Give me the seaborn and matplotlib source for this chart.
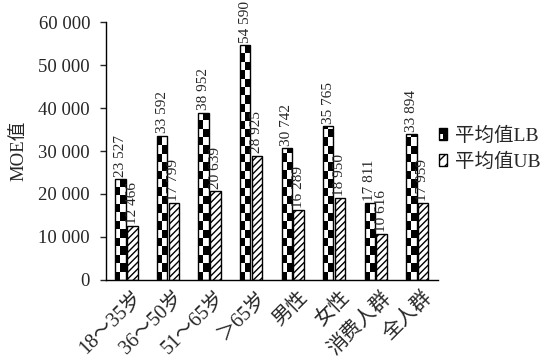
import numpy as np
import pandas as pd
import matplotlib
matplotlib.use("Agg")
import matplotlib.pyplot as plt
import matplotlib.transforms as mtransforms
import seaborn as sns
from matplotlib.patches import Rectangle
from matplotlib.legend_handler import HandlerBase
from matplotlib.ticker import FuncFormatter

categories = ["18～35岁", "36～50岁", "51～65岁", "＞65岁", "男性", "女性", "消费人群", "全人群"]
lb_values = [23527, 33592, 38952, 54590, 30742, 35765, 17811, 33894]
ub_values = [12466, 17799, 20639, 28925, 16289, 18950, 10616, 17959]
series_names = ["平均值LB", "平均值UB"]
yticks = [0, 10000, 20000, 30000, 40000, 50000, 60000]

sns.set_style("white")
FONT = ["Liberation Serif", "Noto Sans CJK SC"]
plt.rcParams["font.family"] = FONT
plt.rcParams["hatch.linewidth"] = 1.0

df = pd.DataFrame({
    "cat": categories * 2,
    "series": [series_names[0]] * len(categories) + [series_names[1]] * len(categories),
    "value": lb_values + ub_values,
})

fig = plt.figure(figsize=(5.48, 3.63), dpi=100)
ax = fig.add_axes([0.193, 0.229, 0.606, 0.710])

sns.barplot(data=df, x="cat", y="value", hue="series", order=categories,
            hue_order=series_names, palette=["white", "white"], width=0.56,
            gap=0.1, edgecolor="black", linewidth=1.0, legend=False, ax=ax)

ax.set_ylim(0, 60000)
xlim = ax.get_xlim()

def fmt(v):
    return f"{int(round(v)):,}".replace(",", " ")

# checkerboard for LB bars
row_h = 1950
for bar in ax.containers[0]:
    x0 = bar.get_x(); w = bar.get_width(); h = bar.get_height()
    n = int(np.ceil(h / row_h)) + 1
    arr = np.indices((n, 2)).sum(0) % 2
    im = ax.imshow(arr, cmap="gray", extent=(x0, x0 + w, 0, n * row_h),
                   origin="lower", aspect="auto", interpolation="nearest",
                   zorder=bar.get_zorder() + 0.1)
    im.set_clip_path(bar)
    bar.set_facecolor("none")
    bar.set_zorder(bar.get_zorder() + 0.2)

for bar in ax.containers[1]:
    bar.set_hatch("/////")

for cont in ax.containers:
    for bar in cont:
        h = bar.get_height()
        ax.text(bar.get_x() + bar.get_width() / 2, h + 500, fmt(h),
                rotation=90, ha="center", va="bottom", fontsize=11, family=FONT)

ax.set_xlim(xlim)
ax.set_ylim(0, 60000)
ax.set_yticks(yticks)
ax.yaxis.set_major_formatter(FuncFormatter(lambda v, p: fmt(v)))
ax.tick_params(axis="y", labelsize=13.5, length=4.3, width=1, direction="out", left=True, pad=7)
ax.tick_params(axis="x", length=0, pad=6)
ax.set_xticks(range(len(categories)))
ax.set_xticklabels(categories, rotation=45, ha="right", rotation_mode="anchor",
                   fontsize=14.5, family=FONT)
offset = mtransforms.ScaledTranslation(6 / 100, 0, fig.dpi_scale_trans)
for lab in ax.get_xticklabels():
    lab.set_transform(lab.get_transform() + offset)
ax.set_xlabel("")
ax.set_ylabel("MOE值", fontsize=13.5, family=FONT, labelpad=8)
for s in ["top", "right"]:
    ax.spines[s].set_visible(False)
for s in ["left", "bottom"]:
    ax.spines[s].set_color("black")
    ax.spines[s].set_linewidth(1.0)


class CheckerHandler(HandlerBase):
    def create_artists(self, legend, orig_handle, xdescent, ydescent, width,
                       height, fontsize, trans):
        x0, y0 = -xdescent, -ydescent
        a1 = Rectangle((x0, y0), width, height, facecolor="black", edgecolor="none", transform=trans)
        a2 = Rectangle((x0 + width * 0.15, y0 + height * 0.1), width * 0.4, height * 0.4,
                       facecolor="white", edgecolor="none", transform=trans)
        a3 = Rectangle((x0, y0), width, height, facecolor="none", edgecolor="black", lw=1, transform=trans)
        return [a1, a2, a3]


class HatchHandler(HandlerBase):
    def create_artists(self, legend, orig_handle, xdescent, ydescent, width,
                       height, fontsize, trans):
        x0, y0 = -xdescent, -ydescent
        a = Rectangle((x0, y0), width, height, facecolor="white", edgecolor="black", lw=1,
                      hatch="///", transform=trans)
        return [a]


h1 = Rectangle((0, 0), 1, 1)
h2 = Rectangle((0, 0), 1, 1, hatch="x")
leg = fig.legend([h1, h2], series_names, loc="center left",
                 bbox_to_anchor=(0.801, 0.59), frameon=False,
                 handler_map={h1: CheckerHandler(), h2: HatchHandler()},
                 prop={"family": FONT, "size": 14}, handlelength=0.4,
                 handleheight=0.55, handletextpad=0.45, labelspacing=0.4,
                 borderpad=0, borderaxespad=0)

fig.savefig("out.png", dpi=100)
